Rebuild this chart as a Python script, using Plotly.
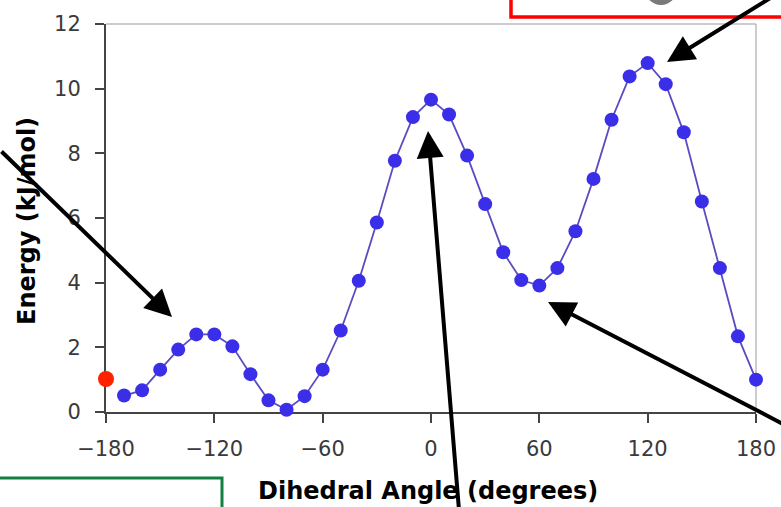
import plotly.graph_objects as go

# ---- data ----
angles = [-170, -160, -150, -140, -130, -120, -110, -100, -90, -80, -70, -60,
          -50, -40, -30, -20, -10, 0, 10, 20, 30, 40, 50, 60, 70, 80, 90,
          100, 110, 120, 130, 140, 150, 160, 170, 180]
energy = [0.51, 0.67, 1.31, 1.93, 2.40, 2.40, 2.03, 1.17, 0.36, 0.07, 0.49, 1.31,
          2.52, 4.06, 5.86, 7.77, 9.12, 9.66, 9.20, 7.93, 6.43, 4.94, 4.08, 3.91,
          4.45, 5.59, 7.21, 9.04, 10.38, 10.79, 10.14, 8.65, 6.51, 4.45, 2.34, 1.00]
start_angle = [-180]
start_energy = [1.02]
x_ticks = [-180, -120, -60, 0, 60, 120, 180]
y_ticks = [0, 2, 4, 6, 8, 10, 12]

W, H = 781, 507
L, R, T, B = 106, 756, 24, 412

def px2x(px):
    return -180 + (px - L) / (R - L) * 360

def py2y(py):
    return (B - py) / (B - T) * 12

def ppx(px):
    return (px - L) / (R - L)

def ppy(py):
    return (B - py) / (B - T)

fig = go.Figure()
fig.add_trace(go.Scatter(
    x=angles, y=energy, mode="lines+markers",
    line=dict(color="#5a4cc0", width=1.8),
    marker=dict(color="#3a2ee8", size=14, line=dict(width=0)),
    cliponaxis=False, showlegend=False))
fig.add_trace(go.Scatter(
    x=start_angle, y=start_energy, mode="markers",
    marker=dict(color="#ff2200", size=16, line=dict(width=0)),
    cliponaxis=False, showlegend=False))

tickfont = dict(family="DejaVu Sans", size=21, color="#3a3a3a")
fig.update_xaxes(range=[-180, 180], tickvals=x_ticks, ticks="outside", ticklen=9,
                 tickwidth=1.5, tickcolor="#444", showline=True, linecolor="#444",
                 linewidth=2, showgrid=False, zeroline=False, tickfont=tickfont,
                 layer="below traces", ticklabelstandoff=8)
fig.update_yaxes(range=[0, 12], tickvals=y_ticks, ticks="outside", ticklen=9,
                 tickwidth=1.5, tickcolor="#444", showline=True, linecolor="#444",
                 linewidth=2, showgrid=False, zeroline=False, tickfont=tickfont,
                 layer="below traces", ticklabelstandoff=10)

shapes = [
    # light frame top/right
    dict(type="line", xref="paper", yref="paper", x0=0, x1=1, y0=1, y1=1,
         line=dict(color="#bbbbbb", width=1.5), layer="below"),
    dict(type="line", xref="paper", yref="paper", x0=1, x1=1, y0=0, y1=1,
         line=dict(color="#bbbbbb", width=1.5), layer="below"),
    # red box top right
    dict(type="rect", xref="paper", yref="paper", x0=ppx(511), x1=ppx(800),
         y0=ppy(17), y1=ppy(-20), line=dict(color="#ff0000", width=3.5)),
    # grey circle partly visible
    dict(type="circle", xref="paper", yref="paper", x0=ppx(645), x1=ppx(677),
         y0=ppy(5), y1=ppy(-27), fillcolor="#7a7a7a", line=dict(color="#7a7a7a", width=0)),
    # green box bottom left
    dict(type="rect", xref="paper", yref="paper", x0=ppx(-20), x1=ppx(222),
         y0=ppy(530), y1=ppy(478), line=dict(color="#128040", width=3)),
]
fig.update_layout(shapes=shapes)

arrows = [
    ((0, 150), (172, 317)),
    ((5, 510), (121, 420)),
    ((459, 510), (428, 131)),
    ((785, 425), (548, 302)),
    ((772, -3), (667, 62)),
]
annotations = []
for (tx, ty), (hx, hy) in arrows:
    annotations.append(dict(
        x=px2x(hx), y=py2y(hy), xref="x", yref="y",
        ax=px2x(tx), ay=py2y(ty), axref="x", ayref="y",
        text="", showarrow=True, arrowhead=2, arrowsize=1.35, arrowwidth=4,
        arrowcolor="#000000", standoff=0, startstandoff=0))

annotations.append(dict(
    x=ppx(428), y=ppy(491), xref="paper", yref="paper",
    text="Dihedral Angle (degrees)", showarrow=False,
    font=dict(family="DejaVu Sans", size=24, color="#000", weight="bold"),
    xanchor="center", yanchor="middle"))
annotations.append(dict(
    x=ppx(27), y=ppy(221), xref="paper", yref="paper",
    text="Energy (kJ/mol)", showarrow=False, textangle=-90,
    font=dict(family="DejaVu Sans", size=24, color="#000", weight="bold"),
    xanchor="center", yanchor="middle"))
fig.update_layout(annotations=annotations)

fig.update_layout(
    width=W, height=H,
    margin=dict(l=L, r=W - R, t=T, b=H - B, autoexpand=False),
    paper_bgcolor="white", plot_bgcolor="white",
    showlegend=False,
)
fig.write_html("out.html")
